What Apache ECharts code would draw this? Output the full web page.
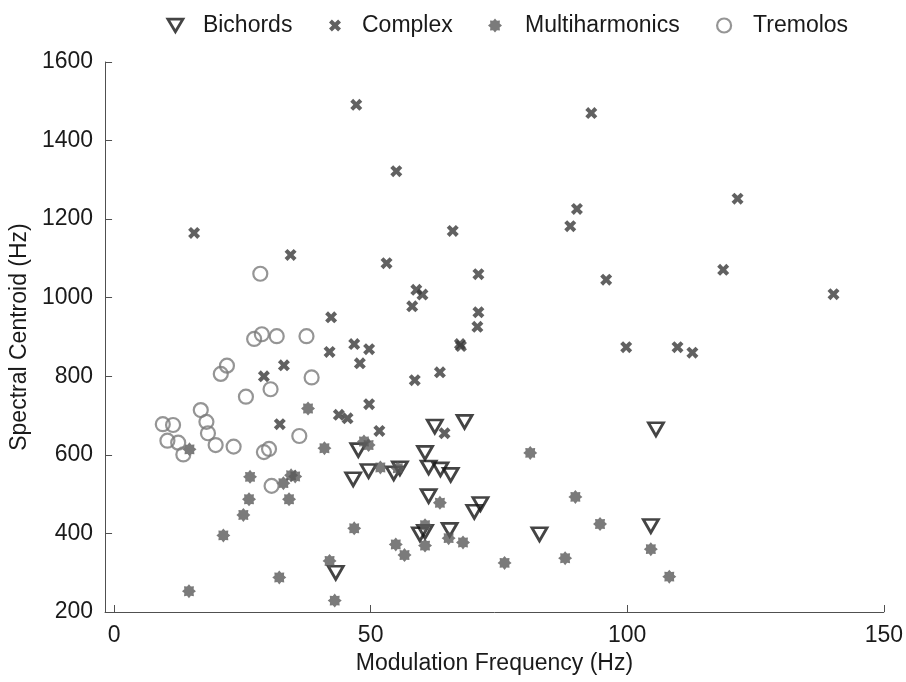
<!DOCTYPE html>
<html>
<head>
<meta charset="utf-8">
<script src="https://cdn.jsdelivr.net/npm/echarts@6/dist/echarts.min.js"></script>
<style>
html,body{margin:0;padding:0;background:#fff;}
#chart{width:906px;height:682px;}
</style>
</head>
<body>
<div id="chart"></div>
<script>
// ---- data (Modulation Frequency Hz, Spectral Centroid Hz) ----
var seriesNames = ['Bichords', 'Complex', 'Multiharmonics', 'Tremolos'];
var xTicks = [0, 50, 100, 150];
var yTicks = [200, 400, 600, 800, 1000, 1200, 1400, 1600];

var bichords = [
  [68.3,684],[62.5,672],[47.6,612],[60.6,605],[49.6,559],[46.6,538],[54.5,553],[55.7,566],
  [61.3,568],[63.6,563],[65.6,549],[61.3,495],[71.4,475],[70.2,455],[59.6,398],[60.6,404],
  [65.4,409],[82.9,398],[43.2,300],[105.6,665],[104.6,419]
];
var complex = [
  [15.6,1165],[47.2,1491],[55.0,1322],[34.4,1109],[66.0,1170],[53.1,1088],[71.0,1060],[58.9,1020],
  [60.1,1008],[58.1,978],[71.0,963],[70.8,926],[42.3,950],[93.0,1470],[90.2,1226],[88.9,1182],
  [121.5,1252],[95.9,1046],[118.7,1071],[140.2,1009],[99.8,874],[109.8,874],[112.7,860],[42.0,862],
  [33.1,828],[29.2,800],[32.3,678],[43.8,702],[45.5,693],[46.8,882],[49.7,869],[47.9,833],
  [58.6,790],[63.5,810],[67.4,882],[67.6,877],[49.7,729],[51.7,661],[64.4,655]
];
var multiharmonics = [
  [37.8,718],[41.0,617],[14.7,614],[26.5,544],[34.5,548],[35.3,545],[33.0,528],[26.3,487],
  [34.1,487],[25.2,447],[21.3,395],[14.6,253],[32.2,288],[42.0,330],[43.0,229],[48.7,634],
  [49.6,625],[51.9,568],[55.3,566],[81.1,605],[89.9,493],[63.5,478],[46.8,413],[60.6,421],
  [54.9,372],[56.6,345],[60.6,369],[65.2,388],[68.0,377],[76.1,325],[87.9,337],[94.7,424],
  [104.6,360],[108.2,290]
];
var tremolos = [
  [27.3,895],[28.8,907],[31.7,902],[37.5,902],[22.0,827],[20.8,806],[38.5,797],[30.5,767],
  [25.7,748],[16.9,714],[9.5,678],[11.5,676],[18.0,684],[18.3,655],[10.4,636],[12.5,631],
  [13.5,601],[19.8,625],[23.3,621],[36.1,648],[29.2,607],[30.2,615],[30.7,521],[28.5,1061]
];

// ---- marker shapes ----
var triPath = 'path://M0,0 L16,0 L8,13.5 Z';
var crossPath = 'path://M0,2.4 L2.4,0 L5,2.6 L7.6,0 L10,2.4 L7.4,5 L10,7.6 L7.6,10 L5,7.4 L2.4,10 L0,7.6 L2.6,5 Z';
function starPath() {
  var pts = [], n = 8, ro = 10, ri = 7.2;
  for (var i = 0; i < n * 2; i++) {
    var r = (i % 2 === 0) ? ro : ri;
    var a = Math.PI * i / n - Math.PI / 2;
    pts.push((10 + r * Math.cos(a)).toFixed(2) + ',' + (10 + r * Math.sin(a)).toFixed(2));
  }
  return 'path://M' + pts.join(' L') + ' Z';
}
var astPath = starPath();

var FONT = 'Liberation Sans';
var TXT = '#1a1a1a';
var AX = '#505050';

var styles = {
  Bichords: {symbol: triPath, size: [15, 13], item: {color: 'rgba(255,255,255,0)', borderColor: '#151515', borderWidth: 2.8}},
  Complex: {symbol: crossPath, size: [12, 12], item: {color: '#3a3a3a'}},
  Multiharmonics: {symbol: astPath, size: [14, 14], item: {color: '#5a5a5a'}},
  Tremolos: {symbol: 'circle', size: [14, 14], item: {color: 'rgba(255,255,255,0)', borderColor: '#7a7a7a', borderWidth: 2.2}}
};
var dataMap = {Bichords: bichords, Complex: complex, Multiharmonics: multiharmonics, Tremolos: tremolos};

var legendLeft = {Bichords: 161.5, Complex: 324, Multiharmonics: 483, Tremolos: 711};
var legendPad = {Bichords: 15, Complex: 16, Multiharmonics: 18, Tremolos: 17};

var chart = echarts.init(document.getElementById('chart'), null, {renderer: 'canvas'});

var option = {
  animation: false,
  backgroundColor: '#ffffff',
  textStyle: {fontFamily: FONT},
  grid: {left: 104, right: 21, top: 62, bottom: 70, containLabel: false},
  legend: seriesNames.map(function (n) {
    var s = styles[n];
    return {
      left: legendLeft[n], top: 9,
      itemWidth: s.size[0], itemHeight: s.size[1],
      selectedMode: false,
      textStyle: {fontFamily: FONT, fontSize: 23, color: TXT, padding: [0, 0, 0, legendPad[n]]},
      data: [{name: n, icon: s.symbol, itemStyle: s.item}]
    };
  }),
  xAxis: {
    type: 'value', min: -1.75, max: 150,
    name: 'Modulation Frequency (Hz)', nameLocation: 'middle', nameGap: 38,
    nameTextStyle: {fontFamily: FONT, fontSize: 23, color: TXT},
    axisLine: {show: true, onZero: false, lineStyle: {color: AX, width: 1}},
    axisTick: {show: true, inside: true, length: 7, customValues: xTicks, lineStyle: {color: AX}},
    axisLabel: {show: true, customValues: xTicks, margin: 12, fontFamily: FONT, fontSize: 23, color: TXT},
    splitLine: {show: false}
  },
  yAxis: {
    type: 'value', min: 200, max: 1600, interval: 200,
    name: 'Spectral Centroid (Hz)', nameLocation: 'middle', nameGap: 65, nameRotate: 90,
    nameTextStyle: {fontFamily: FONT, fontSize: 23, color: TXT},
    axisLine: {show: true, onZero: false, lineStyle: {color: AX, width: 1}},
    axisTick: {show: true, inside: true, length: 7, lineStyle: {color: AX}},
    axisLabel: {show: true, margin: 12, fontFamily: FONT, fontSize: 23, color: TXT,
      formatter: function (v) { return yTicks.indexOf(v) >= 0 ? String(v) : ''; }},
    splitLine: {show: false}
  },
  series: seriesNames.map(function (n) {
    var s = styles[n];
    return {
      name: n, type: 'scatter',
      symbol: s.symbol, symbolSize: s.size,
      itemStyle: s.item,
      emphasis: {disabled: true},
      data: dataMap[n]
    };
  })
};
chart.setOption(option);
</script>
</body>
</html>
